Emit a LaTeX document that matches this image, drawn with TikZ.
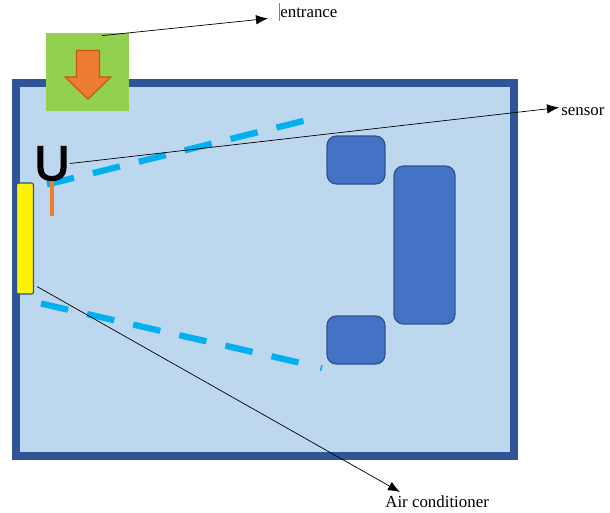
\documentclass[tikz,border=0pt]{standalone}
\usepackage{fontspec}
\setmainfont{Liberation Serif}
\newfontfamily\sensorfont[FakeBold=3]{Liberation Sans}
\usetikzlibrary{arrows.meta}
\usetikzlibrary{calc}
\definecolor{roomfill}{HTML}{BDD7EE}
\definecolor{roomline}{HTML}{2F5597}
\definecolor{gatefill}{HTML}{92D050}
\definecolor{pointerorange}{HTML}{ED7D31}
\definecolor{pointerline}{HTML}{C55A11}
\definecolor{blockfill}{HTML}{4472C4}
\definecolor{blockline}{HTML}{2F528F}
\definecolor{beamblue}{HTML}{00B0F0}
\tikzset{
  block/.style={rectangle,rounded corners=0.19cm,draw=blockline,fill=blockfill,line width=0.7pt,inner sep=0pt},
  beam/.style={draw=beamblue,line width=0.125cm,dash pattern=on 0.556cm off 0.39cm},
  pointer/.style={black,line width=0.4pt,-{Latex[length=0.24cm,width=0.19cm]}},
  caption/.style={font=\fontsize{9.6}{11}\selectfont,text=black,inner xsep=0pt,inner ysep=0pt}
}

\begin{document}
\begin{tikzpicture}[x=0.02cm,y=-0.02cm]
\useasboundingbox (0,0) rectangle (610,512);
\draw[fill=roomfill,draw=roomline,line width=0.16cm] (16,83) rectangle (514,456);

\node[rectangle,fill=gatefill,minimum width=1.67cm,minimum height=1.56cm,inner sep=0pt] (gate) at (87.75,72) {};
\draw[fill=pointerorange,draw=pointerline,line width=0.7pt] (76.5,50.5) -- (99.5,50.5) -- (99.5,77) -- (111,77) -- (88,99) -- (65,77) -- (76.5,77) -- cycle;

\node[block,minimum width=1.16cm,minimum height=0.96cm] (shelftop) at (356,160) {};
\node[block,minimum width=1.22cm,minimum height=3.16cm] (desk) at (424.5,245) {};
\node[block,minimum width=1.16cm,minimum height=0.96cm] (shelfbottom) at (356,340) {};

\draw[beam] (47,184.5) -- (305,120.5);
\draw[beam] (41,303.5) -- (301,363);
\draw[draw=beamblue,line width=0.03cm] (322,365) -- (320.5,371);

\node[rectangle,rounded corners=0.04cm,fill=yellow,draw=blockline,line width=0.7pt,minimum width=0.34cm,minimum height=2.22cm,inner sep=0pt] (aircooler) at (25,238.5) {};
\draw[pointerorange,line width=0.09cm] (52,180) -- (52,216);
\node[font=\sensorfont\fontsize{27.7}{30}\selectfont,text=black,inner sep=0pt] (sensorhead) at (52,163.5) {U};

\node[caption,anchor=south west,inner xsep=0.24cm] (entrance) at (268,18.5) {entrance};
\node[caption,anchor=north west,inner xsep=0.04cm] (sensor) at (559,107.5) {sensor};
\node[caption,anchor=north west] (aircon) at (385,495) {Air conditioner};
\draw[gray,line width=0.5pt] (279.5,3) -- (279.5,21);

\draw[pointer] ($(gate.north)+(14,3)$) -- (entrance.south west);
\draw[pointer] (sensorhead.east) -- (sensor.north west);
\draw[pointer] ($(aircooler.south east)+(3,-8)$) -- ($(aircon.north west)+(15,-3)$);
\end{tikzpicture}
\end{document}
